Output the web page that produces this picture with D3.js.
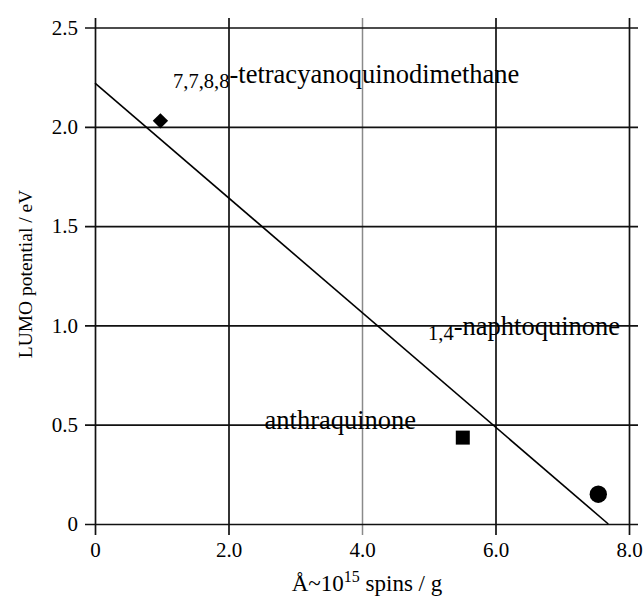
<!DOCTYPE html>
<html>
<head>
<meta charset="utf-8">
<script src="https://cdn.jsdelivr.net/npm/d3@7"></script>
<style>
  html, body { margin: 0; padding: 0; background: #fff; }
  svg text { font-family: "Liberation Serif", "Times New Roman", serif; fill: #000; }
</style>
</head>
<body>
<svg id="chart" width="643" height="598"></svg>
<script>
// Data.
const spins = [0.98, 5.51, 7.54];            // x, 10^15 spins / g
const lumo = [2.03, 0.435, 0.15];            // y, LUMO potential / eV
const markers = ['diamond', 'square', 'circle'];
const fitX = [0, 7.69];                      // fitted line end points
const fitY = [2.22, 0];
const xTicks = [0, 2, 4, 6, 8];
const yTicks = [0, 0.5, 1.0, 1.5, 2.0, 2.5];
// Compound labels: small prefix + main name, anchored in data units.
const labelPrefix = ['7,7,8,8', '1,4', ''];
const labelName = ['-tetracyanoquinodimethane', '-naphtoquinone', 'anthraquinone'];
const labelX = [1.17, 4.99, 2.54];
const labelY = [2.22, 0.95, 0.48];

const serif = '"Liberation Serif", "Times New Roman", serif';
const svg = d3.select('#chart');
const x = d3.scaleLinear().domain([0, 8]).range([95, 629]);
const y = d3.scaleLinear().domain([0, 2.5]).range([524, 27.5]);

const fmt = (d) => (d === 0 ? '0' : d3.format('.1f')(d));

// Grid + ticks: each grid line overshoots the frame by ~10px, like the original.
const xAxis = svg.append('g')
  .attr('transform', 'translate(0,535)')
  .call(d3.axisBottom(x).tickValues(xTicks).tickFormat(fmt)
    .tickSize(-(535 - 18)).tickPadding(7));
const yAxis = svg.append('g')
  .attr('transform', 'translate(85,0)')
  .call(d3.axisLeft(y).tickValues(yTicks).tickFormat(fmt)
    .tickSize(-(638 - 85)).tickPadding(7));

[xAxis, yAxis].forEach((g) => {
  g.attr('font-family', serif).attr('font-size', 21);
  g.select('.domain').remove();
  g.selectAll('.tick line').attr('stroke', '#111').attr('stroke-width', 1.7);
  g.selectAll('.tick text')
    .style('font-family', serif)
    .style('font-size', '21px').attr('fill', '#000');
});
// the 4.0 line is drawn lighter in the source
xAxis.selectAll('.tick').filter((d) => d === 4)
  .select('line').attr('stroke', '#8a8a8a').attr('stroke-width', 1.5);

// Fitted line
svg.append('line')
  .attr('x1', x(fitX[0])).attr('y1', y(fitY[0]))
  .attr('x2', x(fitX[1])).attr('y2', y(fitY[1]))
  .attr('stroke', '#000').attr('stroke-width', 1.6);

// Points
const shape = { diamond: d3.symbolSquare, square: d3.symbolSquare, circle: d3.symbolCircle };
const area = { diamond: 118, square: 196, circle: 236 };
svg.append('g').selectAll('path')
  .data(spins.map((v, i) => ({ x: v, y: lumo[i], m: markers[i] })))
  .join('path')
  .attr('d', (d) => d3.symbol(shape[d.m], area[d.m])())
  .attr('transform', (d) => `translate(${x(d.x)},${y(d.y)})` + (d.m === 'diamond' ? ' rotate(45)' : ''))
  .attr('fill', '#000');

// Compound labels
labelName.forEach((name, i) => {
  const t = svg.append('text')
    .attr('x', x(labelX[i])).attr('y', y(labelY[i]))
    .style('font-family', serif)
    .style('font-size', '26.5px');
  if (labelPrefix[i]) {
    t.append('tspan').text(labelPrefix[i]).style('font-size', '20.5px').attr('dy', 5);
    t.append('tspan').text(name).attr('dy', -5);
  } else {
    t.text(name);
  }
});

// Axis titles
const xt = svg.append('text')
  .attr('x', 367).attr('y', 591)
  .attr('text-anchor', 'middle')
  .style('font-family', serif)
  .style('font-size', '23px');
xt.append('tspan').text('Å~10');
xt.append('tspan').text('15').style('font-size', '16px').attr('dy', -9);
xt.append('tspan').text(' spins / g').attr('dy', 9);

svg.append('text')
  .attr('transform', 'translate(32,274) rotate(-90)')
  .attr('text-anchor', 'middle')
  .style('font-family', serif)
  .style('font-size', '19.5px')
  .text('LUMO potential / eV');
</script>
</body>
</html>
